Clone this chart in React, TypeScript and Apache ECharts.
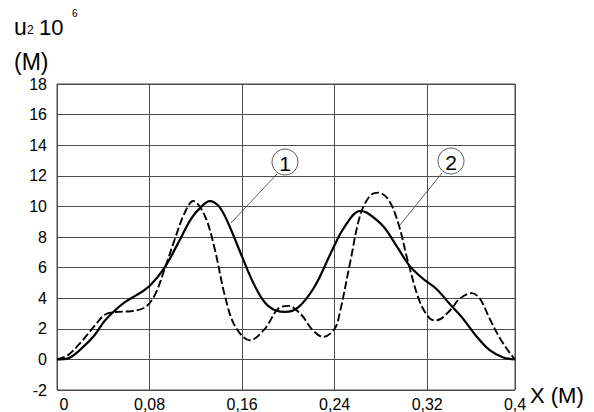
import React, { useEffect, useRef } from "react";
import * as echarts from "echarts";

// Curve 1 (solid)
const solidX = [0, 0.0095, 0.021, 0.0326, 0.041, 0.05, 0.0587, 0.0687, 0.08, 0.093, 0.1047, 0.116, 0.125, 0.132, 0.14, 0.148, 0.1595, 0.171, 0.1825, 0.197, 0.2085, 0.223, 0.237, 0.248, 0.2618, 0.2676, 0.282, 0.2936, 0.305, 0.3166, 0.328, 0.3397, 0.351, 0.3627, 0.374, 0.3857, 0.3959];
const solidY = [0, 0.07, 0.7, 1.6, 2.5, 3.2, 3.75, 4.2, 4.8, 6.0, 7.6, 9.2, 10.0, 10.35, 10.0, 8.9, 6.8, 4.8, 3.5, 3.1, 3.4, 4.8, 7.0, 8.6, 9.7, 9.6, 8.7, 7.4, 6.1, 5.26, 4.6, 3.6, 2.66, 1.5, 0.6, 0.13, 0];

// Curve 2 (dashed)
const dashX = [0, 0.0095, 0.021, 0.0326, 0.041, 0.05, 0.064, 0.076, 0.0845, 0.093, 0.1018, 0.1105, 0.1177, 0.1277, 0.1364, 0.145, 0.1537, 0.1667, 0.1797, 0.191, 0.2, 0.2114, 0.22, 0.23, 0.24, 0.2446, 0.2533, 0.262, 0.2706, 0.2778, 0.2864, 0.295, 0.3037, 0.3137, 0.3224, 0.328, 0.3397, 0.348, 0.3584, 0.3656, 0.374, 0.383, 0.3916, 0.3959];
const dashY = [0, 0.28, 1.15, 2.2, 2.9, 3.1, 3.15, 3.4, 4.2, 5.9, 7.85, 9.6, 10.35, 9.4, 7.2, 4.2, 2.2, 1.25, 2.0, 3.3, 3.5, 2.9, 2.0, 1.47, 2.0, 3.1, 6.3, 9.4, 10.7, 10.9, 10.45, 8.9, 6.3, 3.75, 2.66, 2.55, 3.2, 3.96, 4.33, 3.96, 2.66, 1.36, 0.4, 0];

const xMin = 0;
const xMax = 0.3959;
const xInterval = 0.08;
const yMin = -2;
const yMax = 18;
const yInterval = 2;
const lastXLabel = "0,4";

const FONT = "'Liberation Sans', Arial, sans-serif";

export default function App() {
  const ref = useRef<HTMLDivElement>(null);
  useEffect(() => {
    if (!ref.current) return;
    const chart = echarts.init(ref.current, undefined, { renderer: "svg" });
    const solid = solidX.map((x, i) => [x, solidY[i]]);
    const dashed = dashX.map((x, i) => [x, dashY[i]]);
    const gridColor = "#4d4d4d";
    chart.setOption({
      animation: false,
      backgroundColor: "#fff",
      textStyle: { fontFamily: FONT },
      grid: {
        left: 57,
        right: 79,
        top: 84,
        bottom: 20,
        show: true,
        borderColor: gridColor,
        borderWidth: 1,
        backgroundColor: "transparent",
      },
      xAxis: {
        type: "value",
        min: xMin,
        max: xMax,
        interval: xInterval,
        axisLine: { show: true, lineStyle: { color: gridColor, width: 1 } },
        axisTick: { show: false },
        splitLine: { show: true, lineStyle: { color: gridColor, width: 1 } },
        axisLabel: {
          color: "#000",
          fontSize: 16,
          fontFamily: FONT,
          margin: 6,
          showMaxLabel: true,
          showMinLabel: true,
          formatter: (v: number) => {
            if (v > 0.35) return lastXLabel;
            if (v === 0) return "{z|0}";
            return v.toFixed(2).replace(".", ",");
          },
          rich: {
            z: { fontSize: 16, fontFamily: FONT, color: "#000", padding: [0, 0, 0, 14] },
          },
        },
      },
      yAxis: {
        type: "value",
        min: yMin,
        max: yMax,
        interval: yInterval,
        axisLine: { show: true, lineStyle: { color: gridColor, width: 1 } },
        axisTick: { show: false },
        splitLine: { show: true, lineStyle: { color: gridColor, width: 1 } },
        axisLabel: { color: "#000", fontSize: 16, fontFamily: FONT, margin: 10 },
      },
      series: [
        {
          name: "1",
          type: "line",
          data: solid,
          smooth: 0.35,
          symbol: "none",
          lineStyle: { color: "#000", width: 2.2 },
        },
        {
          name: "2",
          type: "line",
          data: dashed,
          smooth: 0.35,
          symbol: "none",
          lineStyle: { color: "#000", width: 1.9, type: [8, 3] },
        },
      ],
      graphic: [
        { type: "text", x: 14, y: 38, style: { text: "u", fontSize: 23, fontFamily: FONT, fill: "#000", textVerticalAlign: "bottom" } },
        { type: "text", x: 27, y: 36, style: { text: "2", fontSize: 12, fontFamily: FONT, fill: "#000", textVerticalAlign: "bottom" } },
        { type: "text", x: 39, y: 38, style: { text: "10", fontSize: 22, fontFamily: FONT, fill: "#000", textVerticalAlign: "bottom" } },
        { type: "text", x: 72, y: 18, style: { text: "6", fontSize: 10, fontFamily: FONT, fill: "#000", textVerticalAlign: "bottom" } },
        { type: "text", x: 14, y: 73, style: { text: "(M)", fontSize: 23, fontFamily: FONT, fill: "#000", textVerticalAlign: "bottom" } },
        { type: "text", x: 530, y: 406, style: { text: "X (M)", fontSize: 22, fontFamily: FONT, fill: "#000", textVerticalAlign: "bottom" } },
        { type: "line", shape: { x1: 277, y1: 174, x2: 231, y2: 223 }, style: { stroke: "#333", lineWidth: 0.8 } },
        { type: "circle", shape: { cx: 285, cy: 162, r: 13 }, style: { stroke: "#333", lineWidth: 0.8, fill: "#fff" } },
        { type: "text", x: 285, y: 163, style: { text: "1", fontSize: 21, fontFamily: FONT, fill: "#000", textAlign: "center", textVerticalAlign: "middle" } },
        { type: "line", shape: { x1: 442, y1: 173, x2: 400, y2: 225 }, style: { stroke: "#333", lineWidth: 0.8 } },
        { type: "circle", shape: { cx: 451, cy: 161, r: 13 }, style: { stroke: "#333", lineWidth: 0.8, fill: "#fff" } },
        { type: "text", x: 451, y: 162, style: { text: "2", fontSize: 21, fontFamily: FONT, fill: "#000", textAlign: "center", textVerticalAlign: "middle" } },
      ],
    });
    return () => chart.dispose();
  }, []);
  return <div ref={ref} style={{ width: 594, height: 412, position: "fixed", left: 0, top: 0 }} />;
}
